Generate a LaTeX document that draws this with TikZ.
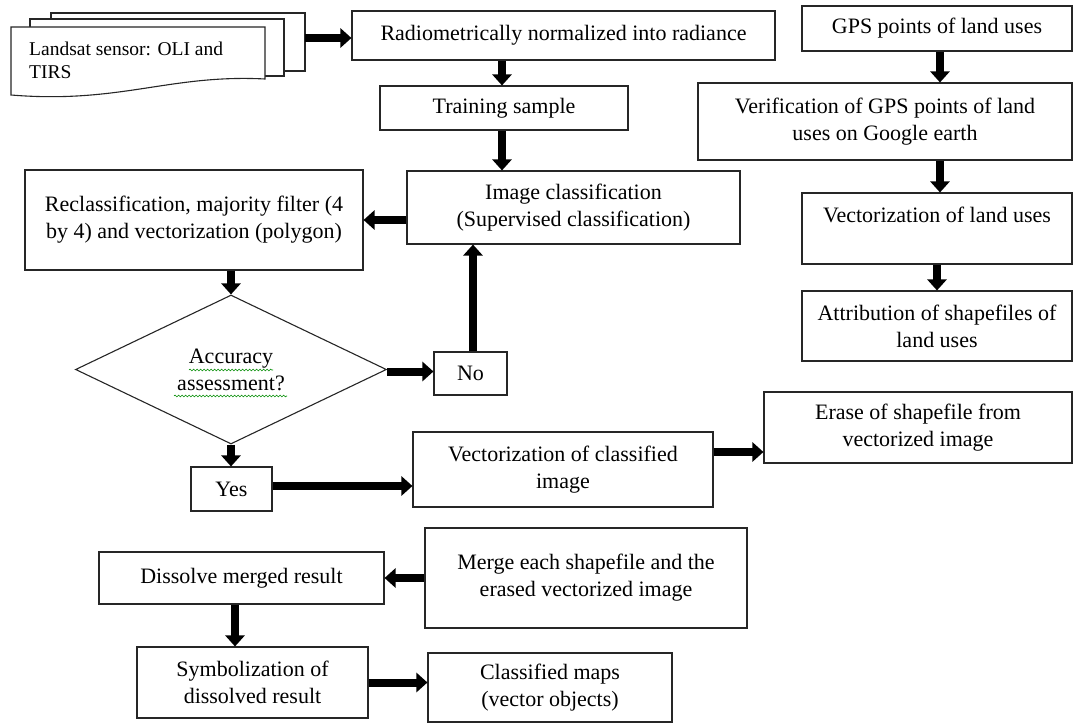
\documentclass[tikz,border=0pt]{standalone}
\usepackage{fontspec}
\setmainfont{Liberation Serif}
\usetikzlibrary{arrows.meta,shapes.geometric,decorations.pathmorphing}
\begin{document}
\begin{tikzpicture}[x=1pt,y=-1pt,
  box/.style={draw=black!85, line width=1.1pt, fill=white, inner sep=0pt, align=center,
    font=\fontsize{22}{27}\selectfont},
  docline/.style={draw=black!85, line width=1.1pt, fill=white},
  fat/.style={line width=8pt, -{Triangle[width=19pt,length=11pt]}},
  squiggle/.style={draw=green!55!black, line width=0.6pt, decorate,
    decoration={snake, amplitude=0.9pt, segment length=3.5pt}}]
\useasboundingbox (0,0) rectangle (1074,725);

% document stack
\draw[docline] (51,13) rectangle (305,71);
\draw[docline] (30,19) rectangle (284,76);
\draw[docline] (11,27) -- (265,27) -- (265,79) .. controls (170,74) and (120,104) .. (11,95) -- cycle;
\node[anchor=west, align=left, inner sep=0pt, font=\fontsize{19.5}{23}\selectfont] (landsat) at (29,60)
  {Landsat sensor: OLI and\\TIRS};
\coordinate (docr) at (305,38);

% main column
\node[box, minimum width=423pt, minimum height=49pt] (radio) at (563.5,35.5) {Radiometrically normalized into radiance};
\node[box, minimum width=248pt, minimum height=44pt] (train) at (504,108) {Training sample};
\node[box, minimum width=333pt, minimum height=73pt] (imgc) at (573.5,207.5) {Image classification\\(Supervised classification)};

% right column
\node[box, minimum width=270pt, minimum height=45pt] (gps) at (937,28.5) {GPS points of land uses};
\node[box, minimum width=374pt, minimum height=77pt] (verif) at (885,121.5) {Verification of GPS points of land\\uses on Google earth};
\node[box, minimum width=270pt, minimum height=71pt] (vland) at (937,228.5) {Vectorization of land uses\\~};
\node[box, minimum width=270pt, minimum height=70pt] (attr) at (937,326) {Attribution of shapefiles of\\land uses};

% left part
\node[box, minimum width=338pt, minimum height=100pt] (recl) at (194,220) {Reclassification, majority filter (4\\by 4) and vectorization (polygon)};
\node[box, shape=diamond, aspect=2.09, minimum width=311pt, minimum height=149pt] (dia) at (231,369.5) {Accuracy\\assessment?};
\node[box, minimum width=73pt, minimum height=43pt] (no) at (470.5,373.5) {No};
\node[box, minimum width=81pt, minimum height=44pt] (yes) at (231.5,489) {Yes};
\node[box, minimum width=300pt, minimum height=75pt] (vcls) at (563,469.5) {Vectorization of classified\\image};
\node[box, minimum width=308pt, minimum height=71pt] (erase) at (918,427.5) {Erase of shapefile from\\vectorized image};
\node[box, minimum width=322pt, minimum height=100pt] (merge) at (586,578) {Merge each shapefile and the\\erased vectorized image};
\node[box, minimum width=285pt, minimum height=52pt] (diss) at (241.5,578) {Dissolve merged result};
\node[box, minimum width=231pt, minimum height=71pt] (symb) at (252.5,682.5) {Symbolization of\\dissolved result};
\node[box, minimum width=244pt, minimum height=69pt] (clsm) at (550,687.5) {Classified maps\\(vector objects)};

% grammar squiggles
\draw[squiggle] (189,370) -- (273,370);
\draw[squiggle] (174,396) -- (287,396);

% connectors
\draw[fat] (docr) -- (docr -| radio.west);
\draw[fat] ([xshift=-2pt]train.north |- radio.south) -- ([xshift=-2pt]train.north);
\draw[fat] ([xshift=-2pt]train.south) -- ([xshift=-2pt]train.south |- imgc.north);
\draw[fat] (imgc.west |- recl.east) -- (recl.east);
\draw[fat] (recl.south -| dia.north) -- (dia.north);
\draw[fat] ([yshift=-2pt]dia.east) -- ([yshift=-2pt]dia.east -| no.west);
\draw[fat] ([xshift=2.5pt]no.north) -- ([xshift=2.5pt]no.north |- imgc.south);
\draw[fat] (dia.south) -- (dia.south |- yes.north);
\draw[fat] ([yshift=3pt]yes.east) -- ([yshift=3pt]yes.east -| vcls.west);
\draw[fat] ([yshift=17.5pt]vcls.east) -- ([yshift=17.5pt]vcls.east -| erase.west);
\draw[fat] ([xshift=3pt]gps.south) -- ([xshift=3pt]gps.south |- verif.north);
\draw[fat] ([xshift=3pt]vland.north |- verif.south) -- ([xshift=3pt]vland.north);
\draw[fat] (vland.south) -- (attr.north);
\draw[fat] (merge.west) -- (diss.east);
\draw[fat] ([xshift=-6.5pt]diss.south) -- ([xshift=-6.5pt]diss.south |- symb.north);
\draw[fat] (symb.east) -- (symb.east -| clsm.west);
\end{tikzpicture}
\end{document}
